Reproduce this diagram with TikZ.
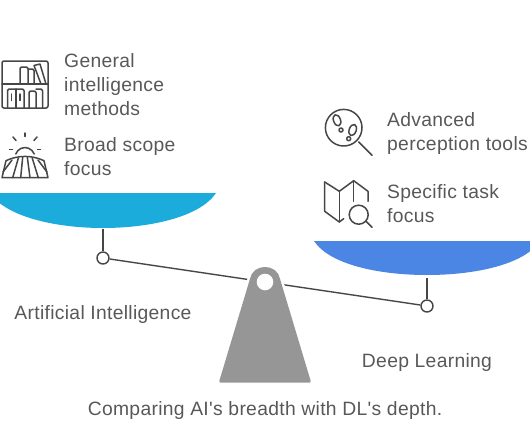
\documentclass[tikz,border=0pt]{standalone}
\usepackage{fontspec}
\setmainfont{Liberation Sans}[LetterSpace=1.6,Ligatures=TeXOff]
\usepackage{tikz}
\usetikzlibrary{calc}
\definecolor{sktext}{RGB}{88,88,88}
\definecolor{skline}{RGB}{70,70,70}
\definecolor{skcyan}{RGB}{27,172,220}
\definecolor{skblue}{RGB}{75,134,228}
\definecolor{skgray}{RGB}{150,150,150}

\begin{document}
\begin{tikzpicture}[
      x=1pt, y=-1pt,
      label/.style={anchor=west, align=left, inner sep=0pt, text=sktext, font=\fontsize{19.3}{24}\selectfont},
      caption/.style={anchor=center, inner sep=0pt, text=sktext, font=\fontsize{19.3}{24}\selectfont},
      icon/.style={draw=skline, line width=1.5pt, line join=round, line cap=round},
      stem/.style={draw=skline, line width=1.6pt},
      beam/.style={draw=skline, line width=1.4pt},
      pivot/.style={circle, draw=skline, fill=white, line width=1.4pt, minimum size=12pt, inner sep=0pt}
    ]
      \useasboundingbox (0,0) rectangle (530,442);
      \clip (0,0) rectangle (530,442);

      % beam and pans
      \node[pivot] (pl) at (103,258) {};
      \node[pivot] (pr) at (427,306) {};
      \coordinate (sl) at (103,229);
      \coordinate (sr) at (427,278);
      \draw[beam] (pl) -- (pr);
      \draw[stem] (sl) -- (pl);
      \draw[stem] (sr) -- (pr);
      \fill[skcyan] (-10,193) -- (216,193) .. controls (200,217) and (150,228) .. (103,228) .. controls (56,228) and (6,217) .. (-10,193) -- cycle;
      \fill[skblue] (314,241) -- (540,241) .. controls (524,265) and (474,275) .. (427,275) .. controls (380,275) and (330,265) .. (314,241) -- cycle;

      % stand
      \draw[white, line width=8pt, line join=round] (220.8,381.2) -- (251.5,279) .. controls (254,265) and (276,265) .. (278.5,279) -- (309.2,381.2);
      \draw[skgray, fill=skgray, line width=3pt, line join=round] (220.8,381.2) -- (251.5,279) .. controls (254,265) and (276,265) .. (278.5,279) -- (309.2,381.2) -- cycle;
      \fill[white] (265,282) circle (8.3);

      % bookshelf
      \draw[icon, rounded corners=2pt] (2,61) rectangle (48,108);
      \draw[icon] (2,84) -- (48,84);
      \draw[icon, rounded corners=1.5pt] (20,84) -- (20,67) -- (28,67) -- (28,84);
      \draw[icon, rounded corners=1.5pt] (28,69) -- (34,69) -- (34,84);
      \draw[icon] (34,65.5) -- (40,64) -- (46,84) -- (41,84) -- cycle;
      \draw[icon, rounded corners=1.5pt] (7.5,108) -- (7.5,89) -- (24,89) -- (24,108);
      \draw[icon] (16,89) -- (16,108);
      \draw[icon, rounded corners=1.5pt] (29,108) -- (29,91) -- (36,91) -- (36,108);
      \draw[icon, rounded corners=1.5pt] (36,89) -- (42.5,89) -- (42.5,108);
      \draw[icon] (11.7,94) -- (11.7,100.5);
      \draw[icon] (20,94) -- (20,100.5);

      % sun over field
      \draw[icon] (15.8,154) arc (200:340:9.8);
      \draw[icon] (25,133) -- (25,136.5);
      \draw[icon] (13,137) -- (16,140.5);
      \draw[icon] (37,137) -- (34,140.5);
      \draw[icon] (9.5,149.3) -- (12.5,149.3);
      \draw[icon] (37.5,149.3) -- (40.5,149.3);
      \draw[icon] (2,177.7) -- (6,160.7) .. controls (18,155) and (32,155) .. (44,160.7) -- (48,177.7) -- cycle;
      \draw[icon] (12.7,177.7) -- (18.3,158.3);
      \draw[icon] (20.7,177.7) -- (22.7,157);
      \draw[icon] (30,177.7) -- (27.3,157);
      \draw[icon] (38.3,177.7) -- (32.3,158.3);
      \draw[icon] (3,172) -- (12,160);
      \draw[icon] (47,172) -- (38,160);

      % lens with footprints
      \draw[icon] (343.7,127.7) circle (18.3);
      \draw[icon] (358.7,142) -- (372,155.3);
      \draw[icon, rotate around={20:(337,120.3)}] (337,120.3) ellipse (3.5 and 5.8);
      \draw[icon, rotate around={-20:(352.7,130)}] (352.7,130) ellipse (3.5 and 5.8);
      \draw[icon] (341,130) circle (2);
      \draw[icon] (348.7,138.7) circle (2);

      % map with lens
      \draw[icon] (324.7,182) -- (339.3,191.3) -- (353.7,180.7) -- (368,191.3) -- (368,201.3);
      \draw[icon] (324.7,182) -- (324.7,211.3) -- (339.3,222) -- (343.7,218.7);
      \draw[icon] (339.3,191.3) -- (339.3,222);
      \draw[icon] (353.7,180.7) -- (353.7,201.3);
      \draw[icon] (358.7,214.7) circle (9.5);
      \draw[icon] (366,221.3) -- (372,227.3);

      % texts
      \node[label] (t1) at (64,85) {General\\intelligence\\methods};
      \node[label] (t2) at (64,156.5) {Broad scope\\focus};
      \node[label] (t3) at (387,134) {Advanced\\perception tools};
      \node[label] (t4) at (387,204) {Specific task\\focus};
      \node[caption] (ai) at (103,315) {Artificial Intelligence};
      \node[caption] (dl) at (427,363) {Deep Learning};
      \node[caption] (cap) at (265,411) {Comparing AI's breadth with DL's depth.};
    \end{tikzpicture}
\end{document}
